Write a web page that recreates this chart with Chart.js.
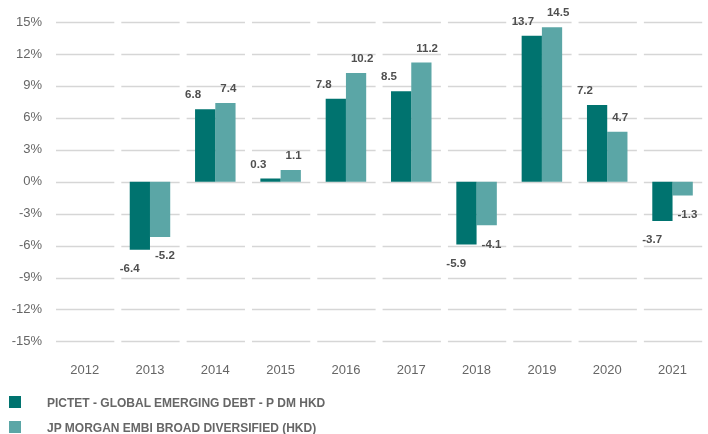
<!DOCTYPE html>
<html>
<head>
<meta charset="utf-8">
<script src="https://cdn.jsdelivr.net/npm/chart.js@4.4.0/dist/chart.umd.min.js"></script>
<style>
  body { margin: 0; background: #fff; }
  #wrap { position: relative; width: 708px; height: 434px; }
  #myChart { position: absolute; left: 0; top: 0; }
  .legend { position: absolute; left: 9px; font-family: "Liberation Sans", Arial, sans-serif; font-weight: bold; font-size: 12px; color: #666; }
  .legend span.box { display: inline-block; width: 12px; height: 12px; vertical-align: -1px; margin-right: 26px; }
</style>
</head>
<body>
<div id="wrap">
  <canvas id="myChart" width="708" height="405"></canvas>
  <div id="legend"></div>
</div>
<script>
var years = ['2012', '2013', '2014', '2015', '2016', '2017', '2018', '2019', '2020', '2021'];
var pictet = [null, -6.4, 6.8, 0.3, 7.8, 8.5, -5.9, 13.7, 7.2, -3.7];
var jpm = [null, -5.2, 7.4, 1.1, 10.2, 11.2, -4.1, 14.5, 4.7, -1.3];
var seriesNames = ['PICTET - GLOBAL EMERGING DEBT - P DM HKD', 'JP MORGAN EMBI BROAD DIVERSIFIED (HKD)'];
var colors = ['#00736f', '#5ba6a6'];
var yTicks = [-15, -12, -9, -6, -3, 0, 3, 6, 9, 12, 15];

// grid lines broken into one segment per category
var segGrid = {
  id: 'segGrid',
  beforeDatasetsDraw: function(chart) {
    var c = chart.ctx, x = chart.scales.x, y = chart.scales.y;
    var w = x.getPixelForValue(1) - x.getPixelForValue(0);
    c.save();
    c.strokeStyle = '#d6d6d6';
    c.lineWidth = 1.5;
    yTicks.forEach(function(t) {
      var py = Math.round(y.getPixelForValue(t)) + 0.5;
      for (var i = 0; i < years.length; i++) {
        var cx = x.getPixelForValue(i);
        c.beginPath();
        c.moveTo(cx - w / 2 + 4, py);
        c.lineTo(cx + w / 2 - 3, py);
        c.stroke();
      }
    });
    c.restore();
  }
};

// value labels, first series shifted left, second shifted right
var valueLabels = {
  id: 'valueLabels',
  afterDatasetsDraw: function(chart) {
    var c = chart.ctx;
    c.save();
    c.font = 'bold 11.5px "Liberation Sans", Arial, sans-serif';
    c.fillStyle = '#4f4f4f';
    c.textAlign = 'left';
    c.textBaseline = 'middle';
    chart.data.datasets.forEach(function(ds, di) {
      chart.getDatasetMeta(di).data.forEach(function(bar, i) {
        var v = ds.data[i];
        if (v === null) return;
        var left = bar.x - bar.width / 2 + (di === 0 ? -10 : 5);
        var ty = v >= 0 ? bar.y - 14 : bar.y + 19;
        c.fillText(v.toFixed(1), left, ty);
      });
    });
    c.restore();
  }
};

var ctx = document.getElementById('myChart').getContext('2d');
var myChart = new Chart(ctx, {
  type: 'bar',
  data: {
    labels: years,
    datasets: [{
      label: seriesNames[0],
      data: pictet,
      backgroundColor: colors[0]
    }, {
      label: seriesNames[1],
      data: jpm,
      backgroundColor: colors[1]
    }]
  },
  options: {
    responsive: false,
    animation: false,
    categoryPercentage: 0.62,
    barPercentage: 1,
    layout: { padding: { top: 22, bottom: 6, right: 0, left: 0 } },
    plugins: {
      legend: { display: false },
      tooltip: { enabled: false }
    },
    scales: {
      x: {
        grid: { display: false, drawTicks: false },
        border: { display: false },
        ticks: {
          padding: 21,
          color: '#666',
          font: { family: 'Liberation Sans', size: 13 }
        }
      },
      y: {
        min: -15,
        max: 15,
        grid: { display: false, drawTicks: false },
        border: { display: false },
        afterBuildTicks: function(axis) {
          axis.ticks = yTicks.map(function(v) { return { value: v }; });
        },
        afterFit: function(axis) { axis.width = 52; },
        ticks: {
          padding: 10,
          color: '#666',
          font: { family: 'Liberation Sans', size: 13 },
          callback: function(v) { return v + '%'; }
        }
      }
    }
  },
  plugins: [segGrid, valueLabels]
});

var legend = document.getElementById('legend');
seriesNames.forEach(function(name, i) {
  var d = document.createElement('div');
  d.className = 'legend';
  d.style.top = (396 + i * 25) + 'px';
  d.innerHTML = '<span class="box" style="background:' + colors[i] + '"></span>' + name;
  legend.appendChild(d);
});
</script>
</body>
</html>
